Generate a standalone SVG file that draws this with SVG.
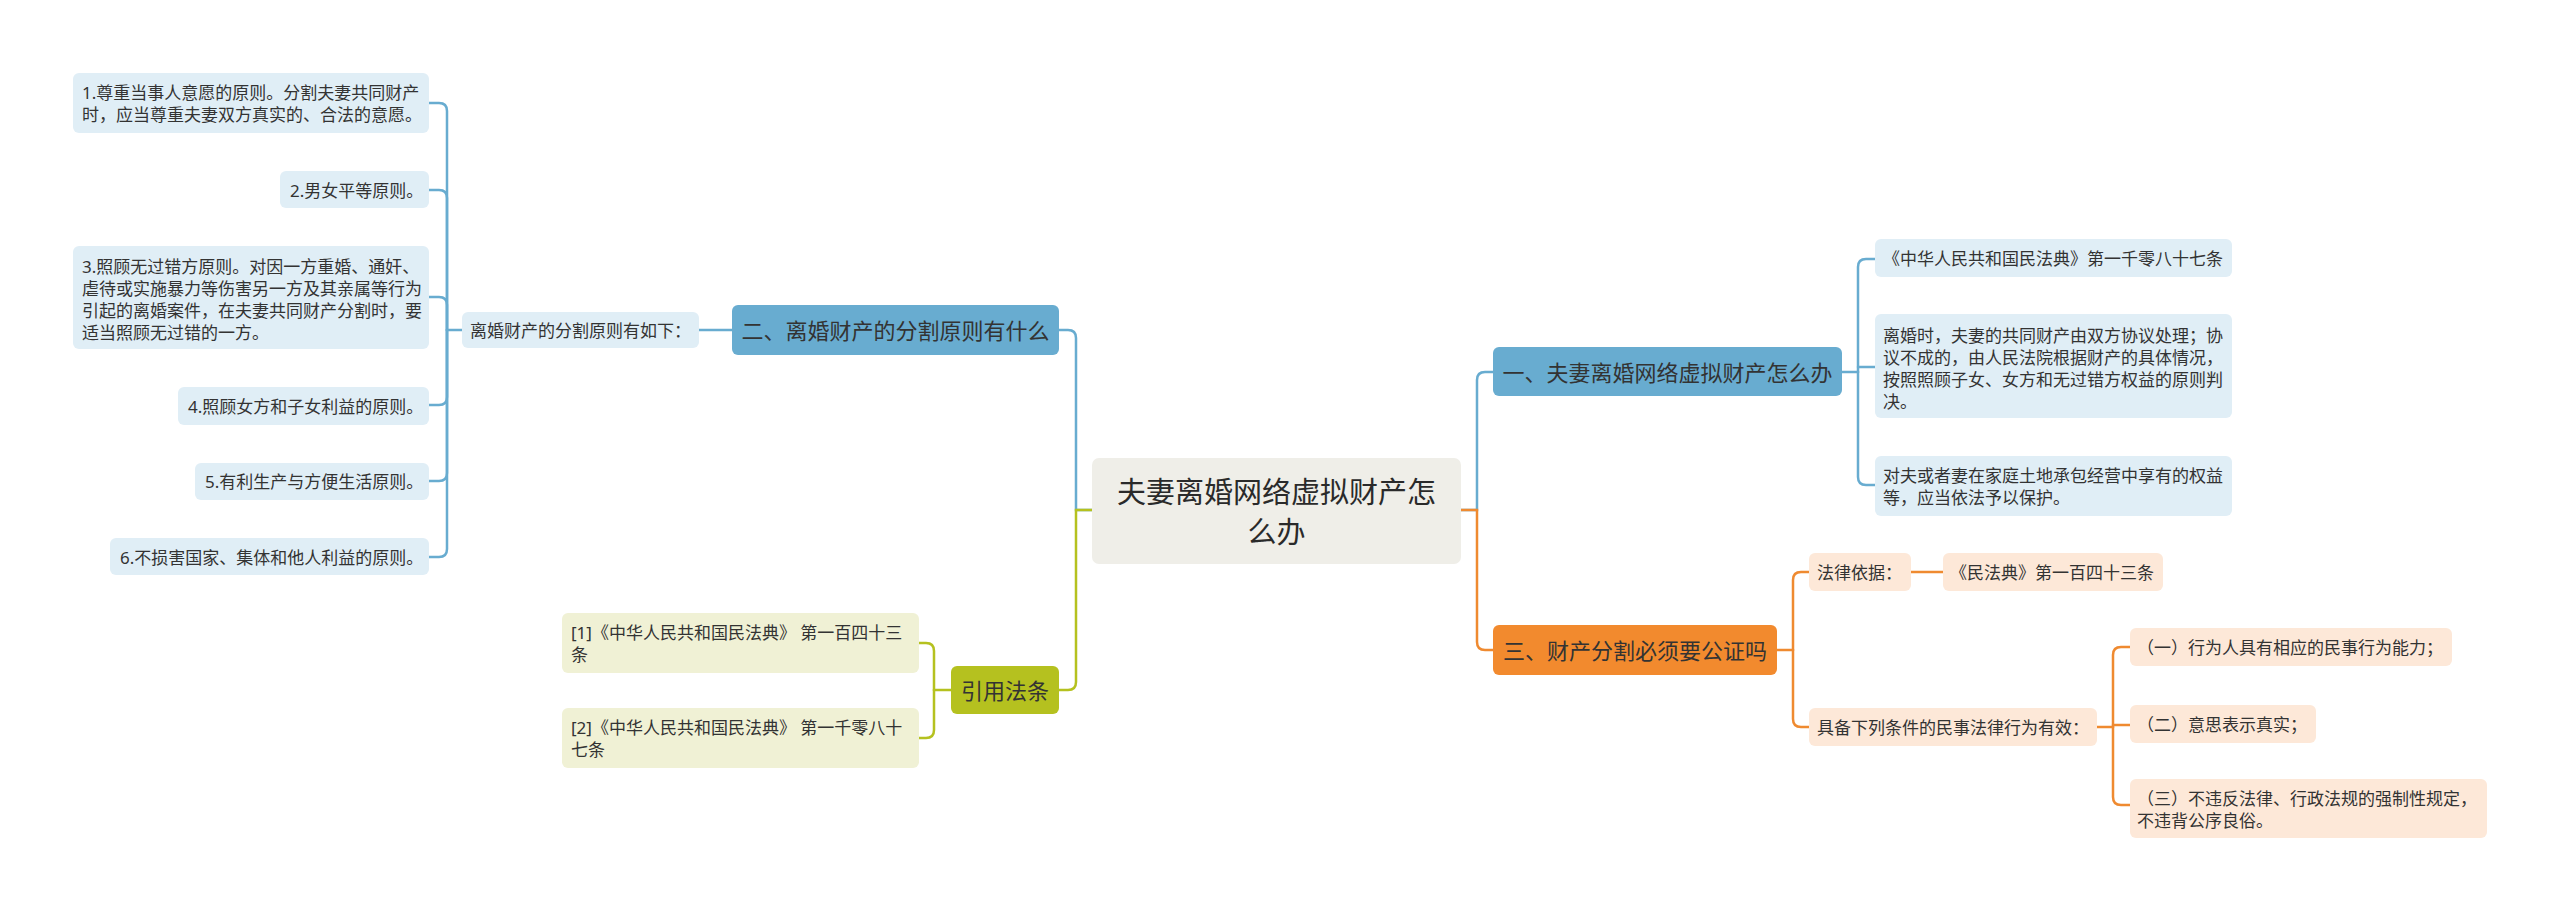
<svg xmlns="http://www.w3.org/2000/svg" width="2560" height="912" viewBox="0 0 2560 912">
<style>
text{font-family:"Noto Sans","Noto Sans CJK SC",sans-serif;fill:#333;dominant-baseline:central}
.leaf{font-size:17px}
.main{font-size:22px}
.center{font-size:29px;text-anchor:middle;fill:#2a2a2a}
.mid{text-anchor:middle}
.cb{fill:none;stroke:#68acd0;stroke-width:2.5;stroke-linecap:round}
.co{fill:none;stroke:#ef8a30;stroke-width:2.5;stroke-linecap:round}
.cy{fill:none;stroke:#b5c11f;stroke-width:2.5;stroke-linecap:round}
.nb{fill:#68acd0}
.no{fill:#f28a2e}
.ny{fill:#b5c11f}
.lb{fill:#e0eef6}
.lo{fill:#fde8d8}
.ly{fill:#f0f1d5}
.nc{fill:#efeee8}
</style>
<rect width="2560" height="912" fill="#fff"/>
<g id="connectors">
<path class="cb" d="M1092,510 H1076 V338 Q1076,330 1068,330 H1059"/>
<path class="cy" d="M1092,510 H1076 V682 Q1076,690 1068,690 H1059"/>
<path class="cb" d="M1461,510 H1477 V380 Q1477,372 1485,372 H1493"/>
<path class="co" d="M1461,510 H1477 V642 Q1477,650 1485,650 H1493"/>
<path class="cb" d="M1842,372 H1858"/>
<path class="cb" d="M1858,372 V267 Q1858,259 1866,259 H1875"/>
<path class="cb" d="M1858,367 H1875"/>
<path class="cb" d="M1858,372 V477 Q1858,485 1866,485 H1875"/>
<path class="cb" d="M732,330 H699"/>
<path class="cb" d="M462,330 H447"/>
<path class="cb" d="M447,330 V111 Q447,103 439,103 H429"/>
<path class="cb" d="M447,330 V198 Q447,190 439,190 H429"/>
<path class="cb" d="M447,330 V305 Q447,297 439,297 H429"/>
<path class="cb" d="M447,330 V397 Q447,405 439,405 H429"/>
<path class="cb" d="M447,330 V473 Q447,481 439,481 H429"/>
<path class="cb" d="M447,330 V549 Q447,557 439,557 H429"/>
<path class="cy" d="M951,690 H934"/>
<path class="cy" d="M934,690 V651 Q934,643 926,643 H919"/>
<path class="cy" d="M934,690 V730 Q934,738 926,738 H919"/>
<path class="co" d="M1777,650 H1793"/>
<path class="co" d="M1793,650 V580 Q1793,572 1801,572 H1809"/>
<path class="co" d="M1793,650 V719 Q1793,727 1801,727 H1809"/>
<path class="co" d="M1911,572 H1943"/>
<path class="co" d="M2097,727 H2113"/>
<path class="co" d="M2113,727 V655 Q2113,647 2121,647 H2130"/>
<path class="co" d="M2113,725 H2130"/>
<path class="co" d="M2113,727 V797 Q2113,805 2121,805 H2130"/>
</g>
<g id="center">
<rect class="nc" x="1092" y="458" width="369" height="106" rx="7"/>
<text class="center" x="1276.5" y="491">夫妻离婚网络虚拟财产怎</text>
<text class="center" x="1276.5" y="531">么办</text>
</g>
<g id="branch1">
<rect class="nb" x="1493" y="347" width="349" height="49" rx="6"/>
<text class="main mid" x="1667.5" y="372">一、夫妻离婚网络虚拟财产怎么办</text>
</g>
<g id="b1-leaf1">
<rect class="lb" x="1875" y="239" width="357" height="38" rx="6"/>
<text class="leaf" x="1883" y="258">《中华人民共和国民法典》第一千零八十七条</text>
</g>
<g id="b1-leaf2">
<rect class="lb" x="1875" y="314" width="357" height="104" rx="6"/>
<text class="leaf" x="1883" y="335">离婚时，夫妻的共同财产由双方协议处理；协</text>
<text class="leaf" x="1883" y="357">议不成的，由人民法院根据财产的具体情况，</text>
<text class="leaf" x="1883" y="379">按照照顾子女、女方和无过错方权益的原则判</text>
<text class="leaf" x="1883" y="401">决。</text>
</g>
<g id="b1-leaf3">
<rect class="lb" x="1875" y="456" width="357" height="60" rx="6"/>
<text class="leaf" x="1883" y="475">对夫或者妻在家庭土地承包经营中享有的权益</text>
<text class="leaf" x="1883" y="497">等，应当依法予以保护。</text>
</g>
<g id="branch2">
<rect class="nb" x="732" y="305" width="327" height="50" rx="6"/>
<text class="main mid" x="895.5" y="330">二、离婚财产的分割原则有什么</text>
</g>
<g id="b2-sub">
<rect class="lb" x="462" y="312" width="237" height="36" rx="6"/>
<text class="leaf" x="470" y="330">离婚财产的分割原则有如下：</text>
</g>
<g id="b2-leaf1">
<rect class="lb" x="73" y="73" width="356" height="60" rx="6"/>
<text class="leaf" x="82" y="92">1.尊重当事人意愿的原则。分割夫妻共同财产</text>
<text class="leaf" x="82" y="114">时，应当尊重夫妻双方真实的、合法的意愿。</text>
</g>
<g id="b2-leaf2">
<rect class="lb" x="280" y="171" width="149" height="37" rx="6"/>
<text class="leaf" x="290" y="190">2.男女平等原则。</text>
</g>
<g id="b2-leaf3">
<rect class="lb" x="73" y="246" width="356" height="103" rx="6"/>
<text class="leaf" x="82" y="266">3.照顾无过错方原则。对因一方重婚、通奸、</text>
<text class="leaf" x="82" y="288">虐待或实施暴力等伤害另一方及其亲属等行为</text>
<text class="leaf" x="82" y="310">引起的离婚案件，在夫妻共同财产分割时，要</text>
<text class="leaf" x="82" y="332">适当照顾无过错的一方。</text>
</g>
<g id="b2-leaf4">
<rect class="lb" x="178" y="387" width="251" height="38" rx="6"/>
<text class="leaf" x="188" y="406">4.照顾女方和子女利益的原则。</text>
</g>
<g id="b2-leaf5">
<rect class="lb" x="195" y="463" width="234" height="37" rx="6"/>
<text class="leaf" x="205" y="481">5.有利生产与方便生活原则。</text>
</g>
<g id="b2-leaf6">
<rect class="lb" x="110" y="538" width="319" height="37" rx="6"/>
<text class="leaf" x="120" y="557">6.不损害国家、集体和他人利益的原则。</text>
</g>
<g id="branch-cite">
<rect class="ny" x="951" y="666" width="108" height="48" rx="6"/>
<text class="main mid" x="1005" y="690">引用法条</text>
</g>
<g id="cite1">
<rect class="ly" x="562" y="613" width="357" height="60" rx="6"/>
<text class="leaf" x="571" y="632">[1]《中华人民共和国民法典》 第一百四十三</text>
<text class="leaf" x="571" y="654">条</text>
</g>
<g id="cite2">
<rect class="ly" x="562" y="708" width="357" height="60" rx="6"/>
<text class="leaf" x="571" y="727">[2]《中华人民共和国民法典》 第一千零八十</text>
<text class="leaf" x="571" y="749">七条</text>
</g>
<g id="branch3">
<rect class="no" x="1493" y="625" width="284" height="50" rx="6"/>
<text class="main mid" x="1635" y="650">三、财产分割必须要公证吗</text>
</g>
<g id="b3-basis">
<rect class="lo" x="1809" y="553" width="102" height="38" rx="6"/>
<text class="leaf" x="1817" y="572">法律依据：</text>
</g>
<g id="b3-basis-item">
<rect class="lo" x="1943" y="553" width="220" height="38" rx="6"/>
<text class="leaf" x="1950" y="572">《民法典》第一百四十三条</text>
</g>
<g id="b3-cond">
<rect class="lo" x="1809" y="708" width="288" height="38" rx="6"/>
<text class="leaf" x="1817" y="727">具备下列条件的民事法律行为有效：</text>
</g>
<g id="b3-c1">
<rect class="lo" x="2130" y="628" width="322" height="38" rx="6"/>
<text class="leaf" x="2137" y="647">（一）行为人具有相应的民事行为能力；</text>
</g>
<g id="b3-c2">
<rect class="lo" x="2130" y="705" width="186" height="38" rx="6"/>
<text class="leaf" x="2137" y="724">（二）意思表示真实；</text>
</g>
<g id="b3-c3">
<rect class="lo" x="2130" y="779" width="357" height="59" rx="6"/>
<text class="leaf" x="2137" y="798">（三）不违反法律、行政法规的强制性规定，</text>
<text class="leaf" x="2137" y="820">不违背公序良俗。</text>
</g>
</svg>
